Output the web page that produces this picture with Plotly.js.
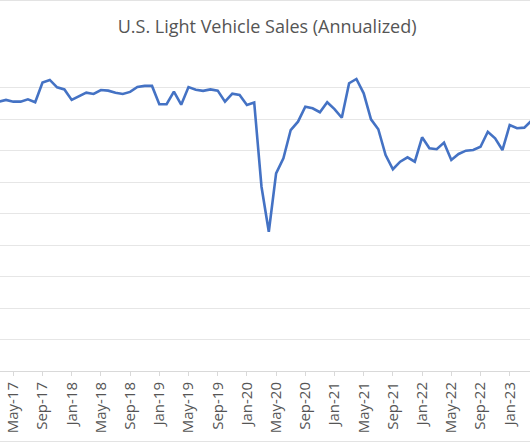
<!DOCTYPE html>
<html>
<head>
<meta charset="utf-8">
<script src="https://cdn.plot.ly/plotly-3.0.1.min.js"></script>
<style>
html, body { margin: 0; padding: 0; background: #ffffff; }
#chart { width: 530px; height: 443px; }
</style>
</head>
<body>
<div id="chart"></div>
<script>
// Months (categories), Mar-17 .. Apr-23
const months = [
  "Mar-17","Apr-17","May-17","Jun-17","Jul-17","Aug-17","Sep-17","Oct-17","Nov-17","Dec-17",
  "Jan-18","Feb-18","Mar-18","Apr-18","May-18","Jun-18","Jul-18","Aug-18","Sep-18","Oct-18","Nov-18","Dec-18",
  "Jan-19","Feb-19","Mar-19","Apr-19","May-19","Jun-19","Jul-19","Aug-19","Sep-19","Oct-19","Nov-19","Dec-19",
  "Jan-20","Feb-20","Mar-20","Apr-20","May-20","Jun-20","Jul-20","Aug-20","Sep-20","Oct-20","Nov-20","Dec-20",
  "Jan-21","Feb-21","Mar-21","Apr-21","May-21","Jun-21","Jul-21","Aug-21","Sep-21","Oct-21","Nov-21","Dec-21",
  "Jan-22","Feb-22","Mar-22","Apr-22","May-22","Jun-22","Jul-22","Aug-22","Sep-22","Oct-22","Nov-22","Dec-22",
  "Jan-23","Feb-23","Mar-23","Apr-23"
];

// Light vehicle sales, annualized (millions of units)
const sales = [
  17.10, 17.21, 17.10, 17.10, 17.25, 17.06, 18.31, 18.48, 18.01, 17.88,
  17.21, 17.46, 17.67, 17.59, 17.84, 17.80, 17.67, 17.59, 17.72, 18.03, 18.10, 18.10,
  16.94, 16.94, 17.74, 16.91, 18.03, 17.86, 17.79, 17.88, 17.80, 17.10, 17.61, 17.53,
  16.89, 17.05, 11.70, 8.84, 12.55, 13.50, 15.30, 15.83, 16.78, 16.68, 16.43, 17.06,
  16.63, 16.08, 18.27, 18.54, 17.63, 15.98, 15.35, 13.71, 12.81, 13.29, 13.57, 13.29,
  14.84, 14.14, 14.08, 14.50, 13.40, 13.78, 13.99, 14.03, 14.24, 15.19, 14.77, 14.03,
  15.62, 15.41, 15.45, 15.90
];

// Tick labels shown on the category axis
const tickLabels = [
  "May-17","Sep-17","Jan-18","May-18","Sep-18","Jan-19","May-19","Sep-19","Jan-20",
  "May-20","Sep-20","Jan-21","May-21","Sep-21","Jan-22","May-22","Sep-22","Jan-23"
];

const chartTitle = "U.S. Light Vehicle Sales (Annualized)";

const trace = {
  type: "scatter",
  mode: "lines",
  x: months,
  y: sales,
  line: { color: "#4472C4", width: 2.6, shape: "linear" },
  hoverinfo: "x+y"
};

const grey = "#555555";
const layout = {
  width: 530,
  height: 443,
  margin: { l: 0, r: 0, t: 56, b: 72, pad: 0 },
  paper_bgcolor: "#ffffff",
  plot_bgcolor: "#ffffff",
  showlegend: false,
  title: {
    text: chartTitle,
    font: { family: "Open Sans, sans-serif", size: 18, color: grey },
    x: 0.504, xref: "container", xanchor: "center",
    y: (443 - 27) / 443, yref: "container", yanchor: "middle"
  },
  xaxis: {
    type: "category",
    categoryorder: "array",
    categoryarray: months,
    range: [0.178, 72.78],
    tickmode: "array",
    tickvals: tickLabels,
    ticktext: tickLabels,
    tickangle: -90,
    tickfont: { family: "Open Sans, sans-serif", size: 15, color: grey },
    ticks: "outside",
    ticklen: 4,
    tickcolor: "#d9d9d9",
    showgrid: false,
    showline: true,
    linecolor: "#d9d9d9",
    linewidth: 1,
    zeroline: false,
    fixedrange: true
  },
  yaxis: {
    range: [0, 20],
    dtick: 2,
    tick0: 0,
    showticklabels: false,
    showgrid: true,
    gridcolor: "#e6e6e6",
    gridwidth: 1,
    zeroline: false,
    showline: false,
    ticks: "",
    fixedrange: true
  },
  shapes: [
    { type: "line", xref: "paper", yref: "paper", x0: -0.01, x1: 1.01,
      y0: (371 - 0.5) / 315, y1: (371 - 0.5) / 315, line: { color: "#e3e3e3", width: 1 } },
    { type: "line", xref: "paper", yref: "paper", x0: -0.01, x1: 1.01,
      y0: (371 - 441.5) / 315, y1: (371 - 441.5) / 315, line: { color: "#e3e3e3", width: 1 } }
  ]
};

Plotly.newPlot("chart", [trace], layout, { displayModeBar: false, staticPlot: true });
</script>
</body>
</html>
